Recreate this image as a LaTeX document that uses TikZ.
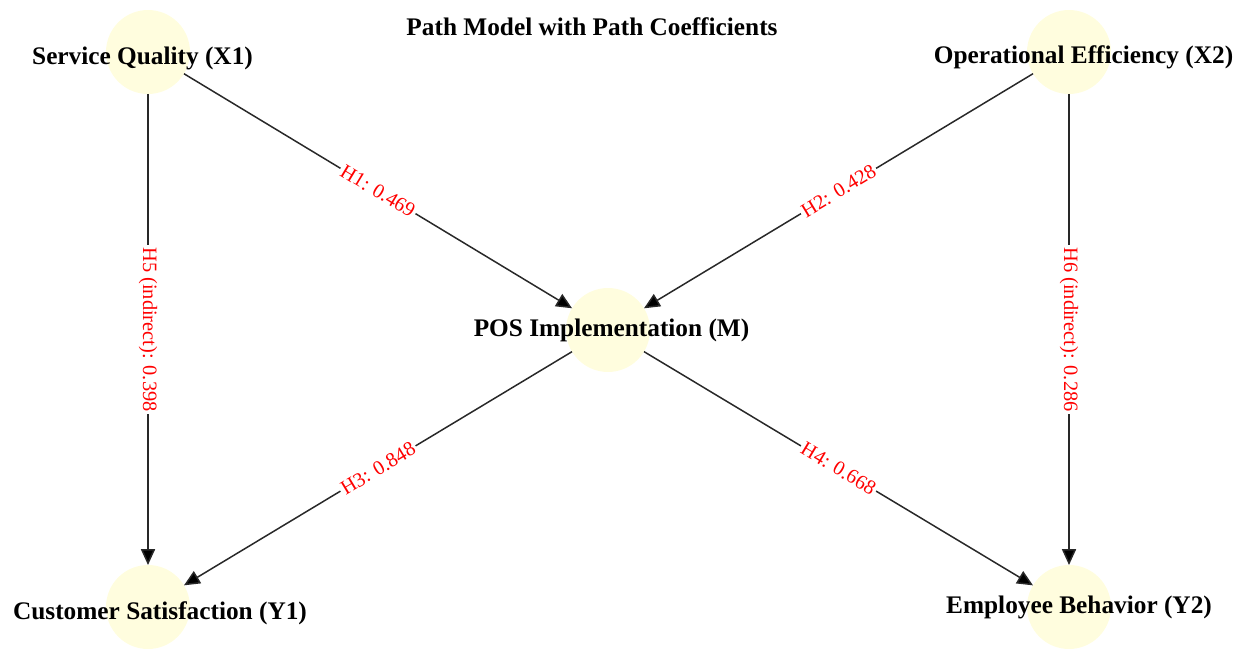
\documentclass[tikz,border=0pt]{standalone}
\usepackage{fontspec}
\setmainfont{Liberation Serif}
\usetikzlibrary{arrows.meta}

\definecolor{paleyellow}{RGB}{255,253,222}
\definecolor{edgegray}{RGB}{40,40,40}

\begin{document}
\begin{tikzpicture}[x=0.02cm,y=-0.02cm,
                    construct/.style={circle,fill=paleyellow,draw=none,minimum size=1.68cm,inner sep=0pt,outer sep=0pt},
                    construct label/.style={font=\fontsize{14.4}{17}\selectfont\bfseries,inner sep=0pt,anchor=base},
                    effect/.style={draw=edgegray,line width=0.85pt,-{Triangle[length=9pt,width=8pt,fill=black]}},
                    coef/.style={font=\fontsize{11.6}{14}\selectfont,text=red,fill=white,inner sep=1.2pt,sloped}
]
\useasboundingbox (0,0) rectangle (1246,662);

\node [font=\fontsize{14.4}{17}\selectfont\bfseries,anchor=base] at (592,36) (title) {Path Model with Path Coefficients};

\node [construct] at (148,52) (x1) {};
\node [construct] at (1069,52) (x2) {};
\node [construct] at (608,330) (m) {};
\node [construct] at (148,607) (y1) {};
\node [construct] at (1069,607) (y2) {};

\draw [effect] (x1) -- node[coef] {H1: 0.469} (m);
\draw [effect] (x2) -- node[coef] {H2: 0.428} (m);
\draw [effect] (m) -- node[coef] {H3: 0.848} (y1);
\draw [effect] (m) -- node[coef] {H4: 0.668} (y2);
\draw [effect] (x1) -- node[coef] {H5 (indirect): 0.398} (y1);
\draw [effect] (x2) -- node[coef] {H6 (indirect): 0.286} (y2);
%
\node [construct label] at (142.5,65) (x1 label) {Service Quality (X1)};
\node [construct label] at (1083.5,63.3) (x2 label) {Operational Efficiency (X2)};
\node [construct label] at (611.5,336) (m label) {POS Implementation (M)};
\node [construct label] at (160,619) (y1 label) {Customer Satisfaction (Y1)};
\node [construct label] at (1079,613.3) (y2 label) {Employee Behavior (Y2)};

\end{tikzpicture}
\end{document}
